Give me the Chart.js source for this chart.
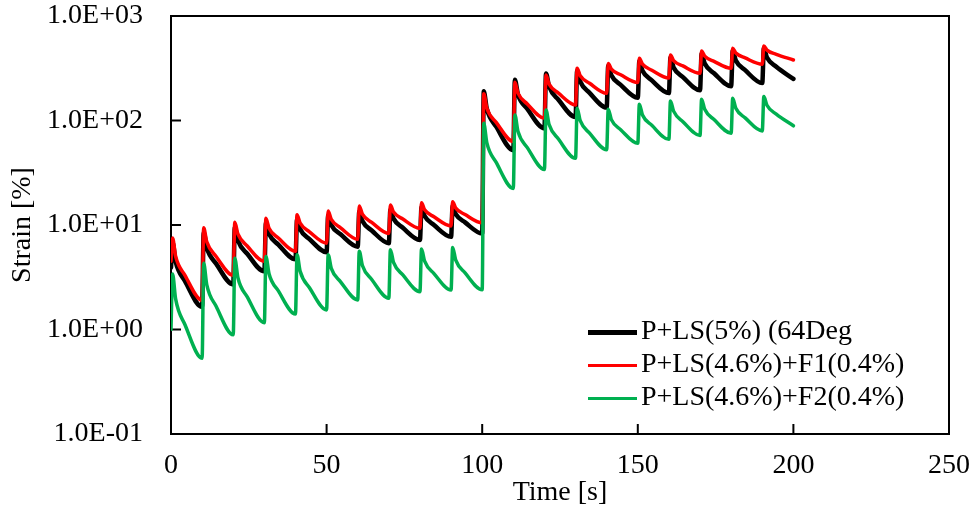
<!DOCTYPE html>
<html><head><meta charset="utf-8">
<script src="https://cdn.jsdelivr.net/npm/chart.js@4.4.1/dist/chart.umd.min.js"></script>
<style>
html,body{margin:0;padding:0;background:#fff;}
#wrap{position:relative;width:976px;height:514px;}
#legend{position:absolute;left:588px;top:313px;font-family:'Liberation Serif','Times New Roman',serif;font-size:28px;color:#000;}
.row{display:flex;align-items:center;height:33px;white-space:nowrap;}
.sw{width:49px;margin-right:4px;margin-top:6px;}
</style></head><body>
<div id="wrap"><canvas id="c" width="976" height="514"></canvas><div id="legend"></div></div>
<script>
// time [s]
const times = [0,
0.5,1.5,4.5,10, 10.5,11.5,14.5,20, 20.5,21.5,24.5,30, 30.5,31.5,34.5,40, 40.5,41.5,44.5,50,
50.5,51.5,54.5,60, 60.5,61.5,64.5,70, 70.5,71.5,74.5,80, 80.5,81.5,84.5,90, 90.5,91.5,94.5,100,
100.5,101.5,104.5,110, 110.5,111.5,114.5,120, 120.5,121.5,124.5,130, 130.5,131.5,134.5,140, 140.5,141.5,144.5,150,
150.5,151.5,154.5,160, 160.5,161.5,164.5,170, 170.5,171.5,174.5,180, 180.5,181.5,184.5,190, 190.5,191.5,194.5,200];

// Strain [%]
const strainBlack = [3.9,
6.8,4.45,2.90,1.65, 8.5,6.03,4.27,2.7, 9.5,7.10,5.31,3.6, 10.5,8.24,6.49,4.7, 11.3,9.10,7.33,5.5,
12.3,10.0,8.15,6.2, 13.5,10.9,8.87,6.7, 14.0,11.5,9.40,7.2, 14.8,12.2,10.0,7.7, 15.2,12.7,10.6,8.3,
190,129,87.3,52, 245,177,129,84, 282,211,158,108, 300,235,184,133, 335,271,219,165,
370,299,242,183, 400,322,260,195, 435,351,283,213, 465,375,303,228, 490,400,327,250];

const strainRed = [4.5,
7.5,5.0,3.3,1.9, 9.4,6.9,5.0,3.3, 10.6,8.2,6.3,4.5, 11.6,9.3,7.5,5.6, 12.5,10.4,8.6,6.7,
13.6,11.3,9.4,7.3, 15.2,12.7,10.6,8.3, 15.5,13.3,11.4,9.3, 16.3,14.0,12.0,9.8, 16.7,14.5,12.6,10.5,
180,131,96,63, 232,183,144,105, 272,223,183,141, 316,268,227,182, 352,310,274,231,
394,346,303,255, 423,375,333,283, 463,413,368,316, 491,442,397,345, 517,471,430,379];

const strainGreen = [1.0,
3.4,1.95,1.11,0.53, 4.3,2.68,1.67,0.89, 4.8,3.13,2.05,1.16, 5.0,3.42,2.34,1.41, 5.2,3.61,2.51,1.54,
5.2,3.85,2.86,1.92, 5.6,4.10,3.01,1.99, 5.8,4.39,3.33,2.3, 5.9,4.50,3.43,2.39, 6.1,4.61,3.48,2.4,
94,61.1,39.7,22.4, 113,78.7,55.0,34, 126,91.4,66.5,43.5, 131,99.5,75.7,52.5, 128,102,81.7,60.5,
143,113,89.9,66, 154,123,97.5,72, 160,128,102,75.7, 163,131,106,79.5, 170,140,115,89];

const seriesLabels = ['P+LS(5%) (64Deg', 'P+LS(4.6%)+F1(0.4%)', 'P+LS(4.6%)+F2(0.4%)'];
const xTickValues = [0, 50, 100, 150, 200, 250];
const xTickLabels = ['0', '50', '100', '150', '200', '250'];
const yTickValues = [0.1, 1, 10, 100, 1000];
const yTickLabels = ['1.0E-01', '1.0E+00', '1.0E+01', '1.0E+02', '1.0E+03'];
const xTitle = 'Time [s]';
const yTitle = 'Strain [%]';

const FONT = "'Liberation Serif','Times New Roman',serif";
const toPts = arr => times.map((t, i) => ({x: t, y: arr[i]}));

const framePlugin = {
  id: 'frame',
  beforeDatasetsDraw(chart) {
    const {ctx, chartArea: a, scales: {x, y}} = chart;
    ctx.save();
    ctx.strokeStyle = '#000';
    ctx.lineWidth = 2;
    ctx.strokeRect(a.left, a.top, a.right - a.left, a.bottom - a.top);
    ctx.beginPath();
    x.ticks.forEach(t => { const px = x.getPixelForValue(t.value); ctx.moveTo(px, a.bottom); ctx.lineTo(px, a.bottom - 10); });
    y.ticks.forEach(t => { const py = y.getPixelForValue(t.value); ctx.moveTo(a.left, py); ctx.lineTo(a.left + 10, py); });
    ctx.stroke();
    ctx.restore();
  }
};

const chart = new Chart(document.getElementById('c'), {
  type: 'line',
  data: {
    datasets: [
      {label: seriesLabels[0], data: toPts(strainBlack), borderColor: '#000000', borderWidth: 4.5, order: 3, legendWidth: 5},
      {label: seriesLabels[1], data: toPts(strainRed), borderColor: '#FF0000', borderWidth: 3.5, order: 2, legendWidth: 3.5},
      {label: seriesLabels[2], data: toPts(strainGreen), borderColor: '#00B050', borderWidth: 3.5, order: 1, legendWidth: 3.5}
    ]
  },
  options: {
    responsive: false,
    animation: false,
    events: [],
    elements: {
      point: {radius: 0},
      line: {fill: false, cubicInterpolationMode: 'monotone', borderJoinStyle: 'round', borderCapStyle: 'round'}
    },
    layout: {padding: {left: 0, top: 16, right: 27, bottom: 0}},
    plugins: {legend: {display: false}, tooltip: {enabled: false}},
    scales: {
      x: {
        type: 'linear', min: 0, max: 250,
        afterBuildTicks: s => { s.ticks = xTickValues.map(v => ({value: v})); },
        afterFit: s => { s.height = 80; s.paddingLeft = 0; s.paddingRight = 0; },
        grid: {display: false, drawTicks: false},
        border: {display: false},
        ticks: {
          autoSkip: false, maxRotation: 0, padding: 16, color: '#000',
          font: {family: FONT, size: 28, lineHeight: 1.1},
          callback: v => xTickLabels[xTickValues.indexOf(v)]
        },
        title: {display: true, text: xTitle, color: '#000', font: {family: FONT, size: 28}, padding: {top: 0, bottom: 5}}
      },
      y: {
        type: 'logarithmic', min: 0.1, max: 1000,
        afterBuildTicks: s => { s.ticks = yTickValues.map(v => ({value: v})); },
        afterFit: s => { s.width = 171; s.paddingTop = 0; s.paddingBottom = 0; },
        grid: {display: false, drawTicks: false},
        border: {display: false},
        ticks: {
          autoSkip: false, padding: 28, color: '#000',
          font: {family: FONT, size: 28, lineHeight: 1.1},
          callback: v => { const i = yTickValues.indexOf(v); return i >= 0 ? yTickLabels[i] : ''; }
        },
        title: {display: true, text: yTitle, color: '#000', font: {family: FONT, size: 28}, padding: {top: 6, bottom: 0}}
      }
    }
  },
  plugins: [framePlugin]
});

const legend = document.getElementById('legend');
chart.data.datasets.forEach(ds => {
  const row = document.createElement('div');
  row.className = 'row';
  const sw = document.createElement('span');
  sw.className = 'sw';
  sw.style.borderTop = ds.legendWidth + 'px solid ' + ds.borderColor;
  const tx = document.createElement('span');
  tx.textContent = ds.label;
  row.appendChild(sw); row.appendChild(tx);
  legend.appendChild(row);
});
</script>
</body></html>
